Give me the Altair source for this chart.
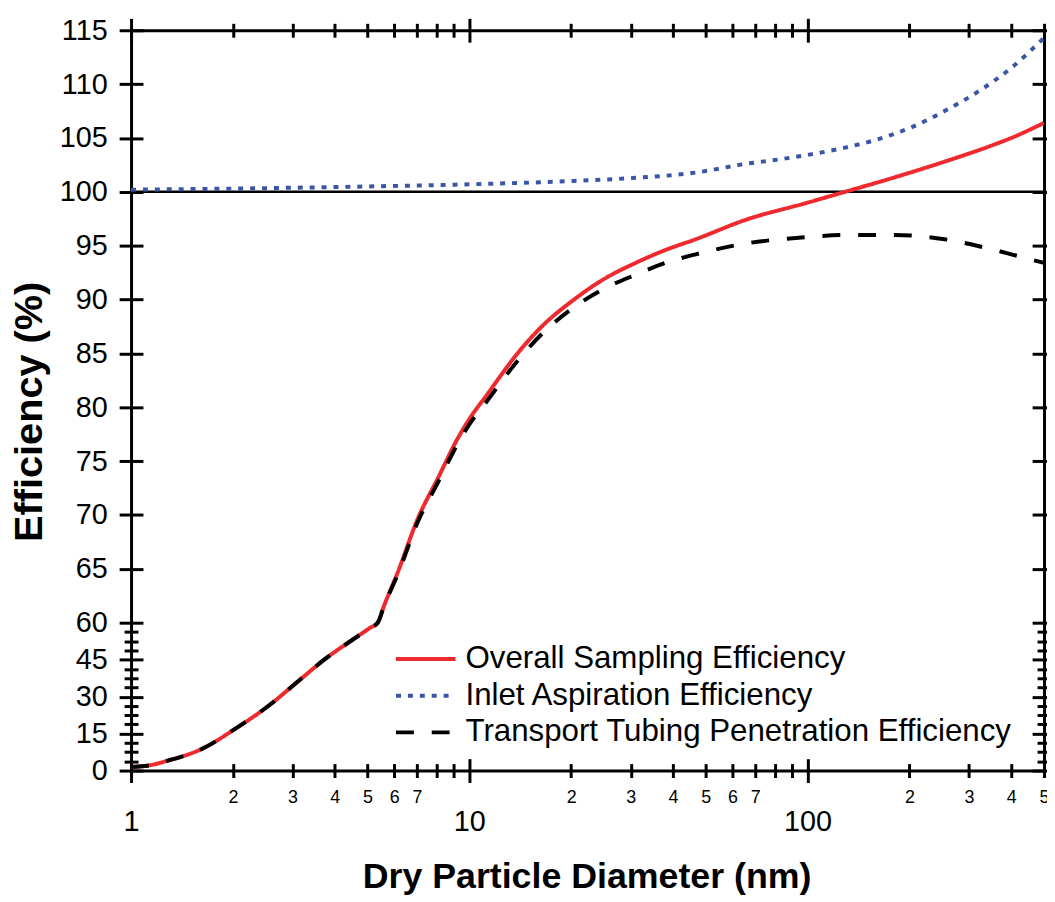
import altair as alt
import pandas as pd

FONT = "Liberation Sans"

series_names = [
    "Overall Sampling Efficiency",
    "Inlet Aspiration Efficiency",
    "Transport Tubing Penetration Efficiency",
]
series_colors = ["#ee2a2e", "#3a55a5", "#000000"]
series_dash = [[1, 0], [5, 7], [18, 18]]

overall_d = [1, 1.13, 1.29, 1.62, 2.03, 2.55, 3.05, 3.74, 4.69, 5.1, 5.36, 5.6, 6.13, 7.05, 8.1, 9.2, 10, 11.3, 13.8, 16.5, 20.2, 25, 31, 38, 46.7, 65.6, 100, 129, 181, 254, 357, 400, 500]
overall_v = [1.5, 2.1, 4.1, 8.8, 16.9, 26.3, 35.1, 45.2, 54.6, 58.0, 60.0, 61.6, 64.6, 69.7, 73.5, 77.0, 78.9, 81.2, 84.9, 87.6, 89.9, 91.9, 93.4, 94.6, 95.6, 97.4, 99.0, 100.0, 101.35, 102.8, 104.4, 105.0, 106.4]

inlet_d = [1, 2, 5, 10, 20, 31, 47, 65.6, 82, 103, 129, 162, 203, 254, 319, 400, 500]
inlet_v = [100.2, 100.3, 100.5, 100.7, 101.0, 101.3, 101.8, 102.6, 103.0, 103.5, 104.1, 104.9, 106.0, 107.5, 109.3, 111.5, 114.3]

transport_d = [1, 1.13, 1.29, 1.62, 2.03, 2.55, 3.05, 3.74, 4.69, 5.1, 5.36, 5.6, 6.13, 7.05, 8.1, 9.2, 10, 11.3, 13.8, 16.5, 20.2, 25, 31, 38, 46.7, 65.6, 100, 129, 181, 254, 357, 400, 500]
transport_v = [1.5, 2.1, 4.1, 8.8, 16.9, 26.3, 35.1, 45.2, 54.6, 58.0, 60.0, 61.6, 64.4, 69.4, 73.1, 76.5, 78.4, 80.6, 84.2, 86.9, 89.2, 91.0, 92.3, 93.4, 94.2, 95.2, 95.8, 96.0, 96.0, 95.6, 94.6, 94.2, 93.4]

major_x = [1, 10, 100]
minor_x = [2, 3, 4, 5, 6, 7, 8, 9, 20, 30, 40, 50, 60, 70, 80, 90, 200, 300, 400, 500]
major_y = [0, 15, 30, 45, 60, 65, 70, 75, 80, 85, 90, 95, 100, 105, 110, 115]
minor_y = [3.75, 7.5, 11.25, 18.75, 22.5, 26.25, 33.75, 37.5, 41.25, 48.75, 52.5, 56.25]
y_break_domain = [0, 60, 115]
reference_level = [100]

rows = []
for name, ds, vs in zip(series_names, [overall_d, inlet_d, transport_d], [overall_v, inlet_v, transport_v]):
    for d, v in zip(ds, vs):
        rows.append({"series": name, "d": d, "v": v})
df = pd.DataFrame(rows)
ref_df = pd.DataFrame({"level": reference_level})

W, H = 920, 746
x_scale = alt.Scale(type="log", domain=[1, 500], nice=False)
y_scale = alt.Scale(type="linear", domain=y_break_domain, range=[H, 597, 0], nice=False, zero=False)

base = dict(grid=False, domainColor="black", tickColor="black", labelColor="black",
            labelFont=FONT, titleFont=FONT, tickWidth=3, domainWidth=3, titleColor="black")


def ax(**kw):
    opts = dict(base)
    opts.update(kw)
    return alt.Axis(**opts)


minor_label = ("floor(datum.value / pow(10, floor(log(datum.value) / LN10 + 1e-9)) + 1e-9) > 7 ? '' : "
               "format(floor(datum.value / pow(10, floor(log(datum.value) / LN10 + 1e-9)) + 1e-9), 'd')")

legend_opts = dict(orient="none", legendX=265, legendY=615, title=None,
                   labelFontSize=31.5, labelFont=FONT, labelColor="black", labelLimit=1000,
                   symbolType="stroke", symbolSize=3600, symbolStrokeWidth=4,
                   labelOffset=8, rowPadding=0, clipHeight=37, padding=0)

rule = alt.Chart(ref_df).mark_rule(color="black", strokeWidth=2.5).encode(
    y=alt.Y("level:Q", scale=y_scale, axis=None)
)

lines = alt.Chart(df).mark_line(strokeWidth=4, clip=True, interpolate="monotone").encode(
    x=alt.X("d:Q", scale=x_scale,
            axis=ax(orient="bottom", values=major_x, tickSize=12, labelFontSize=29, labelPadding=25,
                    labelFlush=False, labelOverlap=False, format="d",
                    title="Dry Particle Diameter (nm)", titleFontSize=36, titleFontWeight="bold",
                    titleBaseline="alphabetic", titleX=459, titleY=118, titleAlign="center")),
    y=alt.Y("v:Q", scale=y_scale,
            axis=ax(orient="left", values=major_y, tickSize=12, labelFontSize=29, labelPadding=12,
                    labelOverlap=False, title="Efficiency (%)", titleFontSize=40, titleFontWeight="bold",
                    titleAngle=270, titleBaseline="alphabetic", titleX=-90, titleY=384, titleAlign="center")),
    color=alt.Color("series:N", scale=alt.Scale(domain=series_names, range=series_colors),
                    legend=alt.Legend(**legend_opts)),
    strokeDash=alt.StrokeDash("series:N", scale=alt.Scale(domain=series_names, range=series_dash),
                              legend=alt.Legend(**legend_opts)),
    order=alt.Order("series_order:Q"),
).transform_calculate(
    series_order="indexof(" + str(series_names) + ", datum.series)"
)


def axis_layer(xaxis, yaxis):
    return alt.Chart(df).mark_point(opacity=0, size=1).encode(
        x=alt.X("d:Q", scale=x_scale, axis=xaxis),
        y=alt.Y("v:Q", scale=y_scale, axis=yaxis),
    )


nolab = dict(labels=False, title=None)
layers = [
    rule,
    lines,
    axis_layer(ax(orient="bottom", values=major_x, offset=-12, tickSize=12, domain=False, **nolab),
               ax(orient="left", values=major_y, offset=-12, tickSize=12, domain=False, **nolab)),
    axis_layer(ax(orient="bottom", values=minor_x, tickSize=7, domain=False, labelFontSize=18,
                  labelPadding=11, labelFlush=False, labelOverlap=False, labelExpr=minor_label, title=None),
               ax(orient="left", values=minor_y, tickSize=7, domain=False, **nolab)),
    axis_layer(ax(orient="bottom", values=minor_x, offset=-7, tickSize=7, domain=False, **nolab),
               ax(orient="left", values=minor_y, offset=-7, tickSize=7, domain=False, **nolab)),
    axis_layer(ax(orient="top", values=major_x, tickSize=12, **nolab),
               ax(orient="right", values=major_y, tickSize=12, **nolab)),
    axis_layer(ax(orient="top", values=major_x, offset=-12, tickSize=12, domain=False, **nolab),
               ax(orient="right", values=major_y, offset=-12, tickSize=12, domain=False, **nolab)),
    axis_layer(ax(orient="top", values=minor_x, tickSize=7, domain=False, **nolab),
               ax(orient="right", values=minor_y, tickSize=7, domain=False, **nolab)),
    axis_layer(ax(orient="top", values=minor_x, offset=-7, tickSize=7, domain=False, **nolab),
               ax(orient="right", values=minor_y, offset=-7, tickSize=7, domain=False, **nolab)),
]

chart = alt.layer(*layers).resolve_scale(
    x="shared", y="shared"
).resolve_axis(
    x="independent", y="independent"
).properties(
    width=W, height=H,
    autosize=alt.AutoSizeParams(type="none"),
    padding={"left": 124, "top": 19, "right": 3, "bottom": 128},
    background="white",
).configure_view(stroke=None)

chart.save("out.html", embed_options={"renderer": "svg", "actions": False})
